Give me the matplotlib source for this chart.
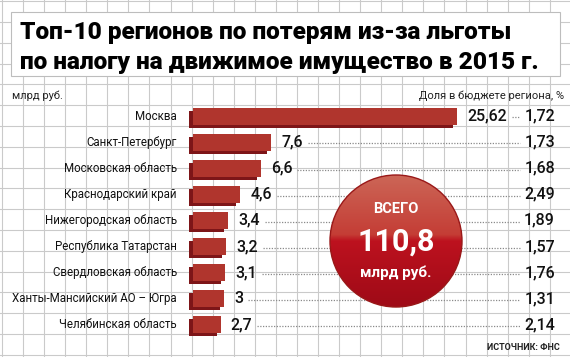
import numpy as np
import matplotlib
matplotlib.use("Agg")
import matplotlib.pyplot as plt
import matplotlib.transforms as mtransforms
from matplotlib.patches import Circle, Rectangle

plt.rcParams["font.family"] = ["Roboto", "DejaVu Sans"]

# data
regions = ["Москва", "Санкт-Петербург", "Московская область", "Краснодарский край",
           "Нижегородская область", "Республика Татарстан", "Свердловская область",
           "Ханты-Мансийский АО – Югра", "Челябинская область"]
losses = [25.62, 7.6, 6.6, 4.6, 3.4, 3.2, 3.1, 3.0, 2.7]   # млрд руб.
shares = [1.72, 1.73, 1.68, 2.49, 1.89, 1.57, 1.76, 1.31, 2.14]  # % бюджета
total = 110.8

title_lines = ["Топ-10 регионов по потерям из-за льготы",
               "по налогу на движимое имущество в 2015 г."]

W, H = 570, 357
fig = plt.figure(figsize=(W / 100, H / 100), dpi=100)

# background: grid paper + title box (pixel coordinates)
bg = fig.add_axes([0, 0, 1, 1])
bg.set_xlim(0, W)
bg.set_ylim(H, 0)
bg.axis("off")
for x in np.arange(2, W, 21.07):
    bg.axvline(x, color="#cacaca", lw=0.8, zorder=0)
for y in np.arange(1.2, H, 20.8):
    bg.axhline(y, color="#cacaca", lw=0.8, zorder=0)

bg.add_patch(Rectangle((11, 12), 549, 64, fc="white", ec="#bdbdbd", lw=0.8, zorder=1))
bg.text(20, 32, title_lines[0], fontsize=17.6, fontweight="heavy", va="center", zorder=2)
bg.text(20, 62, title_lines[1], fontsize=17.6, fontweight="heavy", va="center", zorder=2)

bg.text(12, 96, "млрд руб.", fontsize=8, va="center", color="#222")
bg.text(564, 96, "Доля в бюджете региона, %", fontsize=8, va="center", ha="right", color="#222")
bg.text(560, 347, "ИСТОЧНИК: ФНС", fontsize=6.5, fontweight="bold", va="center", ha="right",
        color="#222")

# bars axes
ax = fig.add_axes([0, 0, 1, 1])
ax.patch.set_alpha(0)
ax.axis("off")
ppu = 10.3          # pixels per bln rub
x0 = 193            # pixel of zero
row0, step = 116, 26.1
ax.set_xlim(-x0 / ppu, (W - x0) / ppu)
ax.set_ylim((H - row0) / step, -row0 / step)

y = np.arange(len(regions))
h = 17 / step
ax.barh(y + 3 / step, losses, left=-4 / ppu, height=h, color="#7d1518", zorder=3)
ax.barh(y, losses, height=h, color="#b0352d", zorder=4)

trans = mtransforms.blended_transform_factory(bg.transData, ax.transData)

value_texts = []
for i, (r, v, s) in enumerate(zip(regions, losses, shares)):
    ax.text(177, i, r, transform=trans, ha="right", va="center", fontsize=8.3, color="#111")
    t = ax.annotate(f"{v:g}".replace(".", ","), (v, i), xytext=(10, 0),
                    textcoords="offset pixels", va="center", fontsize=11.5,
                    fontweight="medium", color="#111")
    value_texts.append(t)
    ax.text(555, i, f"{s:.2f}".replace(".", ","), transform=trans, ha="right",
            va="center", fontsize=11.5, fontweight="medium", color="#111")

fig.canvas.draw()
for i, t in enumerate(value_texts):
    bb = t.get_window_extent()
    ax.plot([bb.x1 + 5, 520], [i + 0.05, i + 0.05], transform=trans, color="#8a8a8a",
            lw=0.9, ls=(0, (1, 1.2)), zorder=2)

# total circle
cx, cy, rad = 396, 241, 66
stops = np.array([0.0, 0.45, 0.5, 1.0])
cols = np.array([[0.80, 0.40, 0.34], [0.77, 0.24, 0.21], [0.74, 0.07, 0.12], [0.62, 0.04, 0.09]])
t_ = np.linspace(0, 1, 200)
grad = np.stack([np.interp(t_, stops, cols[:, k]) for k in range(3)], axis=1)
img = np.repeat(grad[:, None, :], 2, axis=1)
circ = Circle((cx, cy), rad, fc="none", ec="#991818", lw=1, zorder=6)
bg2 = fig.add_axes([0, 0, 1, 1], sharex=bg, sharey=bg)
bg2.axis("off")
im = bg2.imshow(img, extent=(cx - rad, cx + rad, cy + rad, cy - rad), aspect="auto", zorder=5)
bg2.add_patch(circ)
im.set_clip_path(circ)
bg2.set_xlim(0, W)
bg2.set_ylim(H, 0)
bg2.text(cx, 209, "ВСЕГО", color="white", fontsize=10.5, fontweight="bold", ha="center",
         va="center", zorder=7)
bg2.text(cx, 242, f"{total:g}".replace(".", ","), color="white", fontsize=22,
         fontweight="bold", ha="center", va="center", zorder=7)
bg2.text(cx, 273, "млрд руб.", color="white", fontsize=11, fontweight="bold", ha="center",
         va="center", zorder=7)

fig.savefig("out.png", dpi=100)
